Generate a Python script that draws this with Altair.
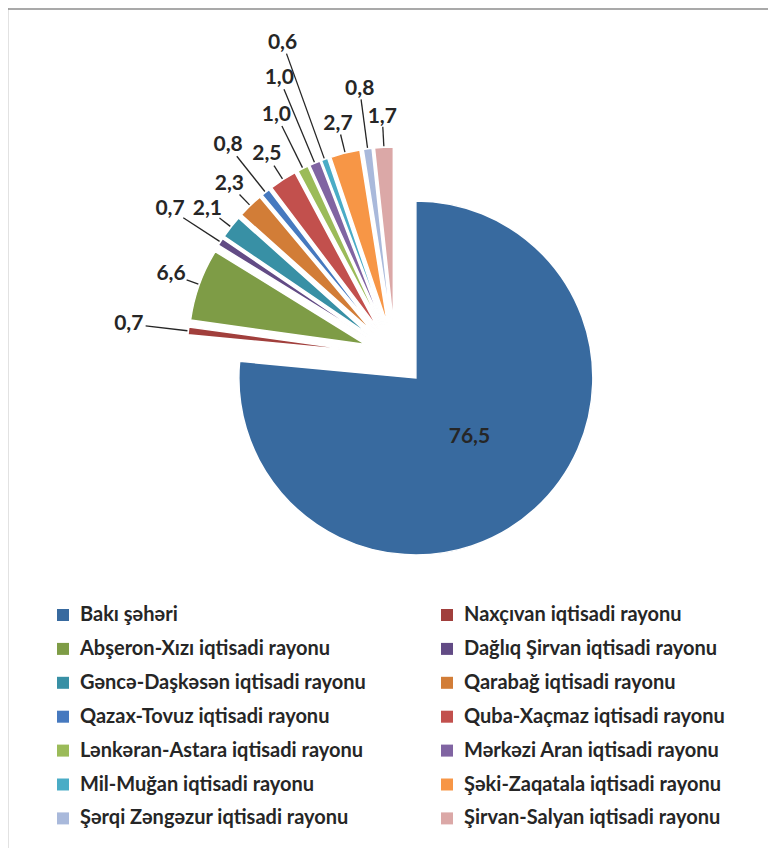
import altair as alt
import pandas as pd

# ---------------- data ----------------
regions = [
    "Bakı şəhəri",
    "Naxçıvan iqtisadi rayonu",
    "Abşeron-Xızı iqtisadi rayonu",
    "Dağlıq Şirvan iqtisadi rayonu",
    "Gəncə-Daşkəsən iqtisadi rayonu",
    "Qarabağ iqtisadi rayonu",
    "Qazax-Tovuz iqtisadi rayonu",
    "Quba-Xaçmaz iqtisadi rayonu",
    "Lənkəran-Astara iqtisadi rayonu",
    "Mərkəzi Aran  iqtisadi  rayonu",
    "Mil-Muğan iqtisadi rayonu",
    "Şəki-Zaqatala  iqtisadi  rayonu",
    "Şərqi Zəngəzur iqtisadi rayonu",
    "Şirvan-Salyan iqtisadi rayonu",
]
shares = [76.5, 0.7, 6.6, 0.7, 2.1, 2.3, 0.8, 2.5, 1.0, 1.0, 0.6, 2.7, 0.8, 1.7]
colors = [
    "#386A9F", "#A13F3C", "#7E9C46", "#624B85", "#3890A5", "#D27D37", "#4679BF",
    "#C2504D", "#9BBB59", "#8064A2", "#4AACC6", "#F79646", "#A9B9DB", "#DBA8A7",
]

# ---------------- layout constants ----------------
W, H = 760, 840
CX, CY = 387, 347      # pie centre (px)
R = 177                # pie radius (px)
EXP = 31               # explosion distance (px)
TXT = "#262626"

# label distance from centre: small neighbouring slices are staggered outward
label_dist = []
run = 0
for v in shares:
    if v >= 50:
        label_dist.append(EXP + 0.45 * R)
        run = 0
    elif v < 1.5:
        run += 1
        label_dist.append(236 + 32 * run)
    else:
        run = 0
        label_dist.append(238)

# legend is filled column by column: reorder so that it reads row by row
legend_order = regions[0::2] + regions[1::2]

df = pd.DataFrame({
    "region": regions,
    "share": shares,
    "idx": list(range(len(regions))),
    "ld": label_dist,
})

base = (
    alt.Chart(df)
    .transform_window(cum="sum(share)", sort=[alt.SortField("idx")], frame=[None, 0])
    .transform_joinaggregate(total="sum(share)")
    .transform_calculate(
        a0="2*PI*(datum.cum - datum.share)/datum.total",
        a1="2*PI*datum.cum/datum.total",
    )
    .transform_calculate(am="(datum.a0 + datum.a1)/2")
    .transform_calculate(
        px=f"{CX} + {EXP}*sin(datum.am)",
        py=f"{CY} - {EXP}*cos(datum.am)",
        lx=f"{CX} + datum.ld*sin(datum.am)",
        ly=f"{CY} - datum.ld*cos(datum.am)",
        lbl="replace(format(datum.share, '.1f'), '.', ',')",
    )
)

arcs = base.mark_arc(outerRadius=R, stroke="white", strokeWidth=1.5).encode(
    x=alt.X("px:Q", scale=None, axis=None),
    y=alt.Y("py:Q", scale=None, axis=None),
    theta=alt.Theta("a0:Q", scale=None),
    theta2="a1:Q",
    color=alt.Color(
        "region:N",
        scale=alt.Scale(domain=regions, range=colors),
        legend=alt.Legend(
            title=None,
            values=legend_order,
            orient="none",
            legendX=45,
            legendY=597,
            columns=2,
            symbolType="square",
            symbolSize=144,
            symbolStrokeWidth=0,
            symbolOpacity=1,
            labelFont="Lato",
            labelFontSize=20,
            labelFontWeight="bold",
            labelColor=TXT,
            labelOffset=7,
            labelLimit=0,
            rowPadding=13.9,
            columnPadding=71,
            padding=0,
        ),
    ),
)

leaders = (
    base.transform_filter("datum.share < 50")
    .transform_calculate(
        r1=f"{EXP + R + 1}",
        r2="datum.ld - (9 + 8*abs(sin(datum.am)))",
    )
    .transform_filter("datum.r2 > datum.r1 + 3")
    .transform_calculate(
        x1=f"{CX} + datum.r1*sin(datum.am)",
        y1=f"{CY} - datum.r1*cos(datum.am)",
        x2=f"{CX} + datum.r2*sin(datum.am)",
        y2=f"{CY} - datum.r2*cos(datum.am)",
    )
    .mark_rule(color=TXT, strokeWidth=1.3)
    .encode(
        x=alt.X("x1:Q", scale=None, axis=None),
        y=alt.Y("y1:Q", scale=None, axis=None),
        x2="x2:Q",
        y2="y2:Q",
    )
)

labels = base.mark_text(
    font="Lato", fontWeight="bold", fontSize=21, color=TXT, baseline="middle", align="center"
).encode(
    x=alt.X("lx:Q", scale=None, axis=None),
    y=alt.Y("ly:Q", scale=None, axis=None),
    text="lbl:N",
)

frame_df = pd.DataFrame({"k": [0]})
border_left = alt.Chart(frame_df).mark_rule(color="#8C8C8C", strokeWidth=1.5).encode(
    x=alt.value(-0.5), y=alt.value(0), y2=alt.value(H)
)
border_top = alt.Chart(frame_df).mark_rule(color="#8C8C8C", strokeWidth=1.5).encode(
    x=alt.value(-1), x2=alt.value(W), y=alt.value(1)
)

chart = (
    alt.layer(border_left, border_top, arcs, leaders, labels)
    .properties(width=W, height=H, autosize=alt.AutoSizeParams(type="none"), padding=0)
    .configure_view(stroke=None)
)

chart.save("out.html", embed_options={"renderer": "svg", "actions": False})
